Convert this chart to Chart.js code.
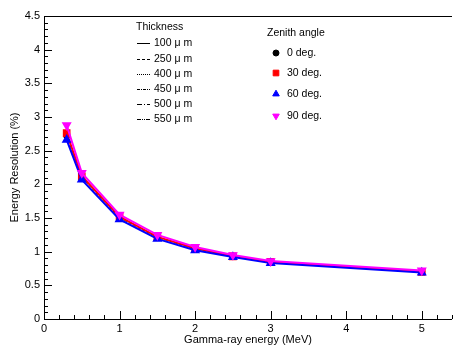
<!DOCTYPE html>
<html>
<head>
<meta charset="utf-8">
<script src="https://cdn.jsdelivr.net/npm/chart.js@4"></script>
<style>
  body { margin: 0; background: #fff; }
  canvas { display: block; }
</style>
</head>
<body>
<canvas id="resChart" width="458" height="347"></canvas>
<script>
// energies (MeV) and resolution (%) per zenith angle
var energies = [0.3, 0.5, 1, 1.5, 2, 2.5, 3, 5];
var deg0  = [2.72, 2.10, 1.50, 1.21, 1.04, 0.93, 0.84, 0.70];
var deg30 = [2.76, 2.12, 1.52, 1.22, 1.05, 0.93, 0.85, 0.70];
var deg60 = [2.66, 2.07, 1.48, 1.19, 1.02, 0.92, 0.83, 0.69];
var deg90 = [2.88, 2.17, 1.55, 1.25, 1.07, 0.95, 0.86, 0.72];

var angleLabels = ["0 deg.", "30 deg.", "60 deg.", "90 deg."];
var thicknessLabels = ["100 \u03bc m", "250 \u03bc m", "400 \u03bc m", "450 \u03bc m", "500 \u03bc m", "550 \u03bc m"];
var thicknessDash = [[], [3, 2], [1, 1], [3, 1, 1, 1], [5, 2, 1, 2], [4, 1, 1, 1, 1, 1]];

function pts(ys) {
    return energies.map(function (x, i) { return { x: x, y: ys[i] }; });
}

// ROOT prints 1 not 1.0
function plainTick(value) {
    return String(Math.round(value * 10) / 10);
}

var FONT = "'Liberation Sans', Arial, sans-serif";

// ROOT style frame, inward ticks and the two legends
var rootFrame = {
    id: 'rootFrame',
    afterDraw: function (chart) {
        var ctx = chart.ctx;
        var a = chart.chartArea;
        var xs = chart.scales.x, ys = chart.scales.y;
        ctx.save();
        ctx.strokeStyle = '#000';
        ctx.lineWidth = 1;
        ctx.beginPath();
        ctx.moveTo(a.left + 0.5, a.top + 0.5);
        ctx.lineTo(a.right, a.top + 0.5);
        ctx.moveTo(a.left + 0.5, a.top);
        ctx.lineTo(a.left + 0.5, a.bottom + 0.5);
        ctx.lineTo(a.right, a.bottom + 0.5);
        // x ticks
        for (var i = 0; i <= 27; i++) {
            var px = Math.round(xs.getPixelForValue(i * 0.2)) + 0.5;
            var len = (i % 5 === 0) ? 8 : 4;
            ctx.moveTo(px, a.bottom);
            ctx.lineTo(px, a.bottom - len);
        }
        // y ticks
        for (var j = 0; j <= 45; j++) {
            var py = Math.round(ys.getPixelForValue(j * 0.1)) + 0.5;
            var l = (j % 5 === 0) ? 8 : 4;
            ctx.moveTo(a.left, py);
            ctx.lineTo(a.left + l, py);
        }
        ctx.stroke();

        // thickness legend
        ctx.fillStyle = '#000';
        ctx.font = '10.5px ' + FONT;
        ctx.textBaseline = 'middle';
        ctx.textAlign = 'left';
        ctx.fillText('Thickness', 136, 27);
        var rowsT = [43, 59, 74, 89, 104, 119];
        thicknessLabels.forEach(function (t, k) {
            ctx.beginPath();
            ctx.setLineDash(thicknessDash[k]);
            ctx.moveTo(137, rowsT[k] + 0.5);
            ctx.lineTo(150, rowsT[k] + 0.5);
            ctx.stroke();
            ctx.setLineDash([]);
            ctx.fillText(t, 154, rowsT[k]);
        });

        // zenith legend
        ctx.fillText('Zenith angle', 267, 33);
        var rowsZ = [53, 73, 94, 116];
        var ds = chart.data.datasets;
        angleLabels.forEach(function (t, k) {
            var d = ds[k];
            ctx.fillStyle = d.pointBackgroundColor;
            ctx.strokeStyle = d.pointBackgroundColor;
            Chart.helpers.drawPoint(ctx, {
                pointStyle: d.pointStyle, rotation: d.pointRotation || 0,
                radius: d.pointRadius, borderWidth: 1
            }, 276, rowsZ[k]);
            ctx.fillStyle = '#000';
            ctx.fillText(t, 287, rowsZ[k]);
        });
        ctx.restore();
    }
};

var ctxRes = document.getElementById('resChart').getContext('2d');
var resChart = new Chart(ctxRes, {
    type: 'line',
    data: {
        datasets: [{
            label: angleLabels[0],
            data: pts(deg0),
            borderColor: '#222',
            borderWidth: 1,
            borderDash: [3, 2],
            pointStyle: 'circle',
            pointRadius: 3,
            pointBackgroundColor: '#000',
            pointBorderColor: '#000',
            order: 3
        }, {
            label: angleLabels[1],
            data: pts(deg30),
            borderColor: '#ff0000',
            borderWidth: 2,
            pointStyle: 'rect',
            pointRadius: 4,
            pointBackgroundColor: '#ff0000',
            pointBorderColor: '#ff0000',
            order: 2
        }, {
            label: angleLabels[2],
            data: pts(deg60),
            borderColor: '#0000ff',
            borderWidth: 2,
            pointStyle: 'triangle',
            pointRadius: 3.8,
            pointBackgroundColor: '#0000ff',
            pointBorderColor: '#0000ff',
            order: 1
        }, {
            label: angleLabels[3],
            data: pts(deg90),
            borderColor: '#ff00ff',
            borderWidth: 2,
            pointStyle: 'triangle',
            pointRotation: 180,
            pointRadius: 3.8,
            pointBackgroundColor: '#ff00ff',
            pointBorderColor: '#ff00ff',
            order: 0
        }]
    },
    options: {
        responsive: false,
        animation: false,
        layout: { padding: { top: 16, right: 0, left: 0, bottom: 0 } },
        plugins: { legend: { display: false }, tooltip: { enabled: false } },
        scales: {
            x: {
                type: 'linear',
                min: 0,
                max: 5.4,
                grid: { display: false, drawTicks: false },
                border: { display: false },
                ticks: {
                    stepSize: 1,
                    includeBounds: false,
                    padding: 3,
                    color: '#000',
                    font: { family: FONT, size: 11 },
                    maxRotation: 0,
                    callback: plainTick
                },
                title: {
                    display: true,
                    text: 'Gamma-ray energy (MeV)',
                    color: '#000',
                    font: { family: FONT, size: 11 },
                    padding: { top: 0, bottom: 0 }
                },
                afterFit: function (s) { s.height = 28; }
            },
            y: {
                min: 0,
                max: 4.5,
                grid: { display: false, drawTicks: false },
                border: { display: false },
                ticks: {
                    stepSize: 0.5,
                    padding: 4,
                    color: '#000',
                    font: { family: FONT, size: 11 },
                    callback: plainTick
                },
                title: {
                    display: true,
                    text: 'Energy Resolution (%)',
                    color: '#000',
                    font: { family: FONT, size: 11 },
                    padding: { top: 8, bottom: 0 }
                },
                afterFit: function (s) { s.width = 44; }
            }
        }
    },
    plugins: [rootFrame]
});
</script>
</body>
</html>
